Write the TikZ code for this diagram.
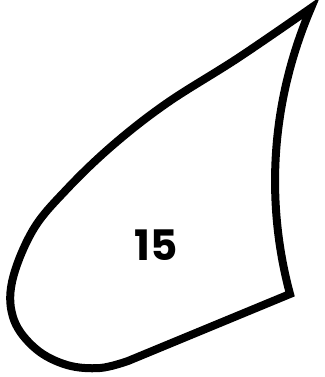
\documentclass[tikz,border=0pt]{standalone}
\usepackage{fontspec}
\newfontfamily\labelfont{Poppins}
\begin{document}
\begin{tikzpicture}[x=1pt,y=-1pt,
  leaf/.style={line width=8pt,line join=miter,miter limit=20},
  lbl/.style={font=\labelfont\bfseries\fontsize{42}{42}\selectfont,inner sep=0pt}]
\useasboundingbox (0,0) rectangle (324,377);
\draw[leaf] plot[smooth,tension=0.6] coordinates {(311,8) (238,58) (167,103) (113,145) (67,189) (33,230) (12,282) (14,320) (36,349) (67,365) (100,368) (128,361)}
  -- (290,294)
  .. controls (270,220) and (264,118) .. (311,8)
  -- cycle;
\node[lbl] (n15) at (156,245) {15};
\end{tikzpicture}
\end{document}
